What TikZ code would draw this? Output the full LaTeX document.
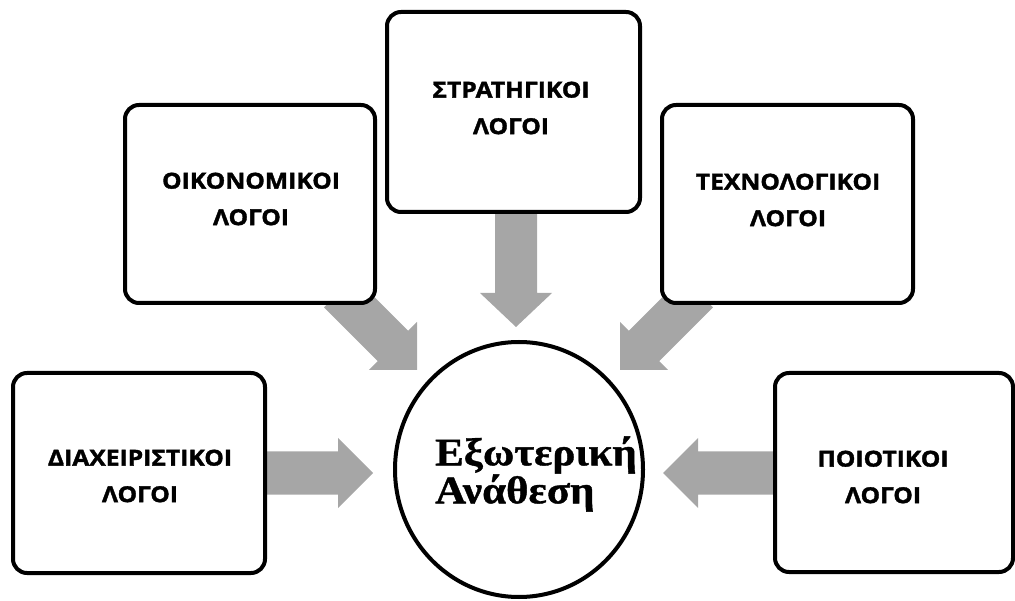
\documentclass[tikz,border=0pt]{standalone}
\usepackage{fontspec}
\usetikzlibrary{shapes.geometric}
\newfontfamily\boxfont[FakeStretch=1.12,FakeBold=1.6]{Open Sans}
\newfontfamily\circfont[FakeStretch=1.1,FakeBold=1]{Liberation Serif}
\definecolor{arrowgray}{RGB}{166,166,166}
\begin{document}
\begin{tikzpicture}[x=1pt,y=-1pt,
  box/.style={draw=black, line width=4pt, rounded corners=14pt, fill=white, inner sep=0pt},
  boxtext/.style={align=center, font=\boxfont\bfseries\fontsize{22}{36.5}\selectfont, inner sep=0pt},
  blockarrow/.style={fill=arrowgray, draw=none}
]
\useasboundingbox (0,0) rectangle (1015,601);

% tips of the block arrows
\coordinate (tipL) at (373,473);
\coordinate (tipR) at (663,473);
\coordinate (tipT) at (516,327);
\coordinate (tipE) at (417,370);
\coordinate (tipH) at (620,370);

% block arrows (tip at origin, pointing along +x)
\fill[blockarrow, shift={(tipL)}, rotate=0]
  (0,0) -- (-35,-35) -- (-35,-21.5) -- (-112,-21.5) -- (-112,21.5) -- (-35,21.5) -- (-35,35) -- cycle;
\fill[blockarrow, shift={(tipR)}, rotate=180]
  (0,0) -- (-35,-35) -- (-35,-21.5) -- (-114,-21.5) -- (-114,21.5) -- (-35,21.5) -- (-35,35) -- cycle;
\fill[blockarrow, shift={(tipT)}, rotate=-90]
  (0,0) -- (-34,-36) -- (-34,-21) -- (-118,-21) -- (-118,21) -- (-34,21) -- (-34,36) -- cycle;
\fill[blockarrow, shift={(tipE)}, rotate=-45]
  (0,0) -- (-34,-34) -- (-34,-21.5) -- (-110,-21.5) -- (-110,21.5) -- (-34,21.5) -- (-34,34) -- cycle;
\fill[blockarrow, shift={(tipH)}, rotate=-135]
  (0,0) -- (-34,-34) -- (-34,-21.5) -- (-110,-21.5) -- (-110,21.5) -- (-34,21.5) -- (-34,34) -- cycle;

% boxes
\node[box, minimum width=250pt, minimum height=198pt] (econ) at (250,204) {};
\node[box, minimum width=253pt, minimum height=200pt] (strat) at (513.5,112) {};
\node[box, minimum width=251pt, minimum height=198pt] (tech) at (787.5,204) {};
\node[box, minimum width=252pt, minimum height=200pt] (mgmt) at (139,473) {};
\node[box, minimum width=238pt, minimum height=199pt] (qual) at (894,472.5) {};

% centre
\node[ellipse, draw=black, line width=4pt, fill=white, minimum width=248pt, minimum height=255pt, inner sep=0pt] (out) at (519,469.5) {};

% texts
\node[boxtext] (econT) at (251,199) {ΟΙΚΟΝΟΜΙΚΟΙ\\ΛΟΓΟΙ};
\node[boxtext] (stratT) at (511,108) {ΣΤΡΑΤΗΓΙΚΟΙ\\ΛΟΓΟΙ};
\node[boxtext] (techT) at (788,200) {ΤΕΧΝΟΛΟΓΙΚΟΙ\\ΛΟΓΟΙ};
\node[boxtext] (mgmtT) at (140,476) {ΔΙΑΧΕΙΡΙΣΤΙΚΟΙ\\ΛΟΓΟΙ};
\node[boxtext] (qualT) at (883,477) {ΠΟΙΟΤΙΚΟΙ\\ΛΟΓΟΙ};

\node[align=left, anchor=west, inner sep=0pt, font=\circfont\bfseries\fontsize{39}{38}\selectfont] (outT) at (435,474) {Εξωτερική\\Ανάθεση};
\end{tikzpicture}
\end{document}
